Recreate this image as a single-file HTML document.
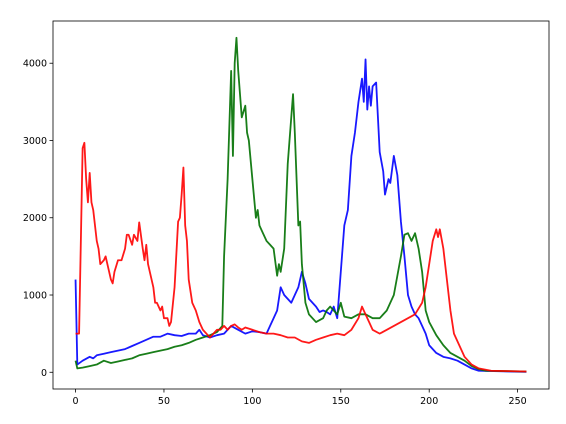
<!DOCTYPE html>
<html><head><meta charset="utf-8"><style>
body{margin:0;background:#fff;}
svg{display:block;font-family:"DejaVu Sans","Liberation Sans",sans-serif;}
</style></head><body>
<svg id="chart" width="566" height="424" viewBox="0 0 566 424" xmlns="http://www.w3.org/2000/svg">
<rect x="0" y="0" width="566" height="424" fill="#fff"/>
<g id="plot"></g>
<rect x="53" y="21" width="496" height="368" fill="none" stroke="#000" stroke-width="0.8"/>
<g id="ticks"></g>
</svg>
<script>
const xTicks=[0,50,100,150,200,250];
const yTicks=[0,1000,2000,3000,4000];
const redBins=[0,2,4,5,6,7,8,9,10,12,13,14,16,17,18,20,21,22,24,26,28,29,30,32,33,35,36,38,39,40,41,42,44,45,46,48,49,50,52,53,54,56,58,59,60,61,62,63,64,66,68,70,72,74,76,78,80,82,84,86,88,90,92,94,96,100,104,108,112,116,120,124,128,132,136,140,144,148,152,156,160,162,164,166,168,172,176,180,184,188,192,196,198,200,202,204,205,206,208,210,212,214,216,218,220,224,228,235,255];
const redVals=[500,500,2900,2970,2500,2200,2580,2200,2100,1700,1600,1400,1450,1500,1400,1200,1150,1300,1450,1450,1600,1780,1780,1650,1780,1700,1940,1600,1450,1650,1400,1300,1100,900,900,800,850,700,700,600,650,1100,1950,2000,2300,2650,1900,1700,1200,900,800,650,550,500,450,500,550,550,600,550,600,620,580,550,580,550,520,500,500,480,450,450,400,380,420,450,480,500,480,550,700,850,750,650,550,500,550,600,650,700,750,900,1100,1400,1700,1850,1750,1850,1600,1200,800,500,400,300,200,100,50,20,10];
const greenBins=[0,1,4,8,12,16,20,24,28,32,36,40,44,48,52,56,60,64,68,72,76,80,83,84,86,88,89,90,91,92,94,96,97,98,100,102,103,104,106,108,110,112,114,115,116,118,120,122,123,124,126,127,128,130,132,136,140,142,144,146,148,150,152,156,160,164,168,172,176,180,184,186,188,190,192,194,196,198,200,204,208,212,216,220,224,228,232,255];
const greenVals=[150,50,60,80,100,150,120,140,160,180,220,240,260,280,300,330,350,380,420,450,480,520,600,1500,2500,3900,2800,4000,4330,3900,3300,3450,3100,3000,2500,2000,2100,1900,1800,1700,1650,1600,1250,1400,1300,1600,2700,3300,3600,3100,1900,1950,1400,900,750,650,700,800,850,800,750,900,720,700,750,750,700,700,800,1000,1500,1780,1800,1700,1800,1600,1300,800,650,480,350,250,200,150,80,40,20,10];
const blueBins=[0,1,4,8,10,12,16,20,24,28,32,36,40,44,48,52,56,60,64,68,70,72,76,80,84,88,92,96,100,104,108,110,112,114,116,118,120,122,124,126,128,130,132,134,136,138,140,142,144,146,148,150,152,154,156,158,160,162,163,164,165,166,167,168,170,172,174,175,177,178,180,182,184,186,188,190,192,194,196,198,200,204,208,212,216,220,224,228,255];
const blueVals=[1200,100,150,200,180,220,240,260,280,300,340,380,420,460,460,500,480,470,500,500,550,480,450,480,500,600,550,500,530,520,500,600,700,800,1100,1000,950,900,1000,1100,1300,1150,950,900,850,780,800,780,750,850,700,1300,1900,2100,2800,3100,3500,3800,3500,4050,3400,3700,3450,3700,3750,2850,2600,2300,2500,2450,2800,2550,1950,1500,1000,850,750,700,600,500,350,250,200,180,150,100,50,20,5];

const L=53,R=549,T=21,B=389;
const xMin=-12.75,xMax=267.75,yMin=-216.5,yMax=4546.5;
function sx(v){return L+(v-xMin)/(xMax-xMin)*(R-L);}
function sy(v){return B-(v-yMin)/(yMax-yMin)*(B-T);}
const NS="http://www.w3.org/2000/svg";
const plot=document.getElementById('plot');
function line(bins,vals,color,name){
  const p=document.createElementNS(NS,'polyline');
  p.setAttribute('points',bins.map((b,i)=>sx(b).toFixed(2)+','+sy(vals[i]).toFixed(2)).join(' '));
  p.setAttribute('fill','none');p.setAttribute('stroke',color);
  p.setAttribute('stroke-width','1.8');p.setAttribute('stroke-opacity','0.9');p.setAttribute('stroke-linejoin','round');
  
  
  plot.appendChild(p);
}
line(blueBins,blueVals,'#0000ff','blue-channel-line');
line(greenBins,greenVals,'#007000','green-channel-line');
line(redBins,redVals,'#ff0000','red-channel-line');
const tk=document.getElementById('ticks');
xTicks.forEach(v=>{
  const x=sx(v);
  const l=document.createElementNS(NS,'line');
  l.setAttribute('x1',x);l.setAttribute('x2',x);l.setAttribute('y1',B);l.setAttribute('y2',B+3.5);l.setAttribute('stroke','#000');l.setAttribute('stroke-width','0.8');
  
  
  tk.appendChild(l);
  const t=document.createElementNS(NS,'text');
  t.setAttribute('x',x);t.setAttribute('y',B+15);t.setAttribute('text-anchor','middle');t.setAttribute('font-size','9.5');
  t.textContent=v;
  
  
  tk.appendChild(t);
});
yTicks.forEach(v=>{
  const y=sy(v);
  const l=document.createElementNS(NS,'line');
  l.setAttribute('x1',L-3.5);l.setAttribute('x2',L);l.setAttribute('y1',y);l.setAttribute('y2',y);l.setAttribute('stroke','#000');l.setAttribute('stroke-width','0.8');
  
  
  tk.appendChild(l);
  const t=document.createElementNS(NS,'text');
  t.setAttribute('x',L-6);t.setAttribute('y',y+3.5);t.setAttribute('text-anchor','end');t.setAttribute('font-size','9.5');
  t.textContent=v;
  
  
  tk.appendChild(t);
});
</script>
</body></html>
